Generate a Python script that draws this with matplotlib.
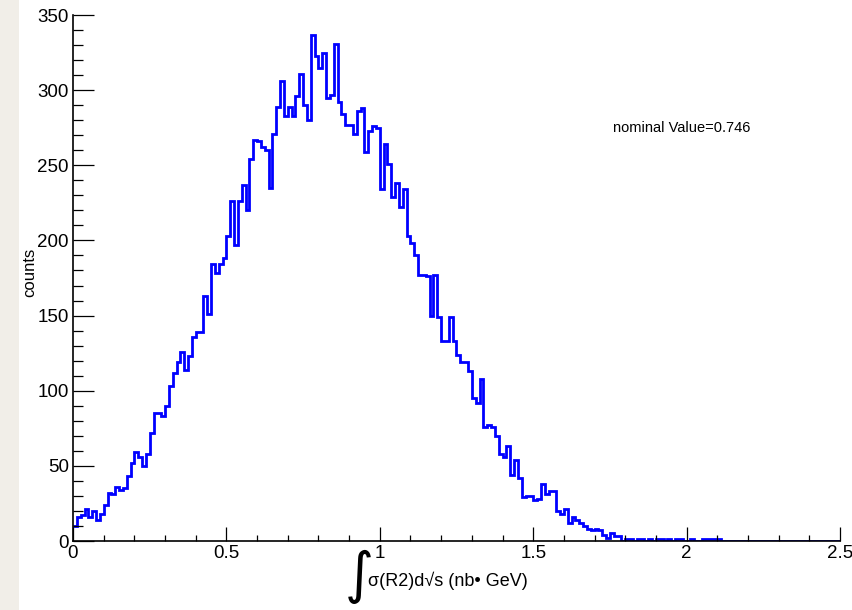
import numpy as np
import matplotlib.pyplot as plt
from matplotlib.patches import Rectangle
from matplotlib.ticker import MultipleLocator

plt.rcParams["font.family"] = ["Liberation Sans", "DejaVu Sans"]

# bin contents, 200 bins from 0 to 2.5
counts = [
    10, 16, 17, 21, 16, 20, 14, 18, 24, 32,
    31, 36, 34, 35, 43, 52, 59, 56, 50, 58,
    72, 85, 85, 83, 90, 103, 112, 119, 126, 114,
    123, 136, 139, 139, 163, 151, 184, 178, 184, 188,
    203, 226, 197, 226, 237, 220, 254, 267, 266, 262,
    260, 235, 271, 289, 306, 283, 289, 283, 296, 311,
    290, 280, 337, 323, 315, 325, 295, 297, 331, 292,
    284, 277, 277, 271, 286, 288, 259, 273, 276, 275,
    234, 264, 251, 229, 238, 222, 234, 203, 198, 190,
    177, 177, 176, 150, 177, 149, 133, 133, 149, 133,
    124, 119, 119, 113, 95, 92, 108, 76, 77, 76,
    70, 58, 56, 63, 44, 54, 42, 29, 30, 30,
    27, 28, 38, 31, 33, 33, 20, 18, 21, 12,
    16, 14, 12, 10, 8, 7, 8, 7, 4, 2,
    5, 3, 3, 0, 1, 1, 0, 1, 1, 0,
    1, 0, 1, 1, 0, 1, 0, 1, 1, 0,
    0, 1, 0, 0, 1, 1, 1, 1, 1, 0,
    0, 0, 0, 0, 0, 0, 0, 0, 0, 0,
    0, 0, 0, 0, 0, 0, 0, 0, 0, 0,
    0, 0, 0, 0, 0, 0, 0, 0, 0, 0,
]
x_lo, x_hi = 0.0, 2.5
edges = np.linspace(x_lo, x_hi, len(counts) + 1)

x_ticks = [0, 0.5, 1, 1.5, 2, 2.5]
x_ticklabels = ["0", "0.5", "1", "1.5", "2", "2.5"]
y_ticks = [0, 50, 100, 150, 200, 250, 300, 350]

W, H = 853, 610
fig = plt.figure(figsize=(W / 100, H / 100), dpi=100, facecolor="white")
# light window border on the left edge of the screenshot
fig.patches.append(Rectangle((0, 0), 19 / W, 1, transform=fig.transFigure,
                             facecolor="#f1eee8", edgecolor="none", zorder=0))

ax = fig.add_axes([73 / W, 1 - 541 / H, 767 / W, 526 / H])

ax.stairs(counts, edges, color="#0000ff", lw=2, baseline=None)

ax.set_xlim(x_lo, x_hi)
ax.set_ylim(0, 350)
ax.set_xticks(x_ticks)
ax.set_xticklabels(x_ticklabels)
ax.set_yticks(y_ticks)
ax.xaxis.set_minor_locator(MultipleLocator(0.1))
ax.yaxis.set_minor_locator(MultipleLocator(10))

ax.tick_params(axis="both", which="both", direction="in", width=0.9,
               labelsize=13.5, colors="black")
ax.tick_params(axis="x", which="major", length=10, pad=3)
ax.tick_params(axis="x", which="minor", length=4.5)
ax.tick_params(axis="y", which="major", length=15, pad=3)
ax.tick_params(axis="y", which="minor", length=7.5)

for side in ["top", "right"]:
    ax.spines[side].set_visible(False)
for side in ["left", "bottom"]:
    ax.spines[side].set_linewidth(1.2)

fig.text(30 / W, 1 - 272 / H, "counts", rotation=90, fontsize=12,
         ha="center", va="center")
fig.text(359 / W, 1 - 577 / H, "\u222b", fontsize=40, ha="center",
         va="center", family=["DejaVu Sans"])
fig.text(368 / W, 1 - 586 / H, "\u03c3(R2)d\u221as (nb\u2022 GeV)",
         fontsize=13, ha="left", va="baseline")
fig.text(613 / W, 1 - 128 / H, "nominal Value=0.746", fontsize=10.5,
         ha="left", va="center")

fig.savefig("out.png", dpi=100)
